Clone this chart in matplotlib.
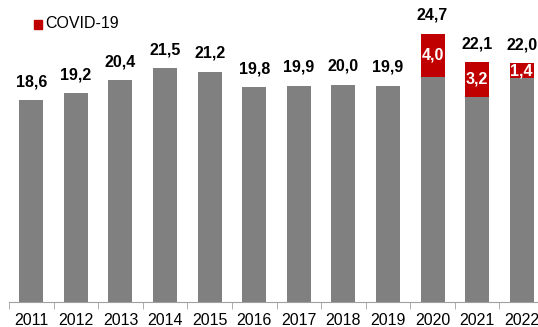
import matplotlib.pyplot as plt

plt.rcParams['font.family'] = ['Liberation Sans', 'DejaVu Sans']

# Данные по годам
years = ['2011', '2012', '2013', '2014', '2015', '2016', '2017', '2018', '2019', '2020', '2021', '2022']
totals = [18.6, 19.2, 20.4, 21.5, 21.2, 19.8, 19.9, 20.0, 19.9, 24.7, 22.1, 22.0]
covid = [0, 0, 0, 0, 0, 0, 0, 0, 0, 4.0, 3.2, 1.4]

gray = '#808080'
red = '#C00000'

base = [t - c for t, c in zip(totals, covid)]
x = list(range(len(years)))

fig = plt.figure(figsize=(5.38, 3.27), dpi=100)
ax = fig.add_axes([9 / 538, 25 / 327, 535 / 538, 302 / 327])

ax.bar(x, base, width=0.54, color=gray, zorder=2)
ax.bar(x, covid, width=0.54, bottom=base, color=red, zorder=2)

# Подписи итоговых значений
for i, t in enumerate(totals):
    ax.text(i, t + 1.0, f'{t:.1f}'.replace('.', ','), ha='center', va='bottom',
            fontsize=11.5, fontweight='bold', color='black')

# Подписи внутри красных сегментов
for i, c in enumerate(covid):
    if c > 0:
        ax.text(i, base[i] + c / 2, f'{c:.1f}'.replace('.', ','), ha='center', va='center',
                fontsize=11.5, fontweight='bold', color='white')

ax.set_xlim(-0.5, len(years) - 0.5)
ax.set_ylim(0, 27.8)

for side in ['top', 'right', 'left']:
    ax.spines[side].set_visible(False)
ax.spines['bottom'].set_color('#a0a0a0')
ax.set_yticks([])

ax.set_xticks(x)
ax.set_xticklabels(years, fontsize=11.5)
ax.tick_params(axis='x', which='major', length=0, pad=8)
ax.set_xticks([i - 0.5 for i in range(len(years) + 1)], minor=True)
ax.tick_params(axis='x', which='minor', length=5, color='#a0a0a0')

# Легенда
fig.patches.append(plt.Rectangle((34 / 538, 1 - 28.5 / 327), 8 / 538, 8 / 327,
                                 transform=fig.transFigure, color=red))
fig.text(45 / 538, 1 - 24 / 327, 'COVID-19', fontsize=11.5, va='center', ha='left')

fig.savefig('out.png', dpi=100)
